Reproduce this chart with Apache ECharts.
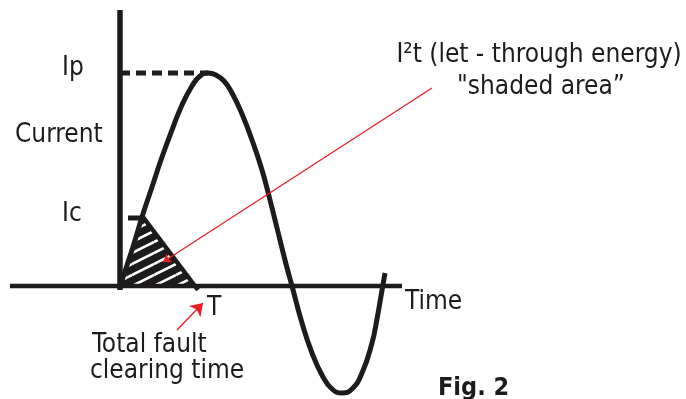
<!DOCTYPE html>
<html>
<head>
<meta charset="utf-8">
<style>
  html, body { margin: 0; padding: 0; background: #fff; }
  #main { width: 686px; height: 399px; }
</style>
<script src="https://cdn.jsdelivr.net/npm/echarts@6/dist/echarts.min.js"></script>
</head>
<body>
<div id="main"></div>
<script>
// time vs current, arbitrary units, origin = fault inception
const currentWave = [
  [0, 0], [12, 36], [22, 69], [32, 99], [42, 129], [52, 156], [62, 181], [72, 200],
  [80, 210], [88, 213], [96, 211], [104, 205], [112, 193], [122, 172], [132, 146],
  [142, 116], [150, 86], [158, 54], [166, 22], [172, 0], [182, -37], [192, -67],
  [202, -89], [212, -103], [222, -107], [232, -103], [242, -87], [252, -57],
  [257, -33], [261, -10], [265, 13]
];
// shaded let-through region: curve up to Ic, then straight down to T
const letThrough = [[0, 0], [12, 36], [23, 69], [76, 0]];
const clearingEdge = [[23, 69], [78, -4]];
const peakLevel = [[0, 213], [88, 213]];   // Ip
const cutoffLevel = [[8, 68], [25, 68]];   // Ic
const currentAxis = [[0, -4], [0, 276]];
const timeAxis = [[-110, 0], [282, 0]];
const energyPointer = [[312, 198], [43, 24]];
const clearingPointer = [[57, -44], [83, -17]];

const tickNames = ['Ip', 'Current', 'Ic'];
const timeNames = ['T', 'Time'];
const notes = ['I\u00b2t (let - through energy)', '"shaded area\u201d', 'Total fault', 'clearing time'];
const figName = 'Fig. 2';

const INK = '#1d1b1c';
const RED = '#ec1c24';
const FONT = "'DejaVu Sans Condensed', 'Liberation Sans', sans-serif";

function hatch() {
  const w = 22, h = 11;
  const c = document.createElement('canvas');
  c.width = w; c.height = h;
  const g = c.getContext('2d');
  g.fillStyle = INK;
  g.fillRect(0, 0, w, h);
  g.strokeStyle = '#fff';
  g.lineWidth = 2.6;
  [-h, 0, h].forEach(off => {
    g.beginPath();
    g.moveTo(0, h + off);
    g.lineTo(w, off);
    g.stroke();
  });
  return c;
}

function plain(data, width, extra) {
  return Object.assign({
    type: 'line',
    data: data,
    symbol: 'none',
    silent: true,
    lineStyle: { color: INK, width: width, cap: 'butt' }
  }, extra || {});
}

function pointer(pts, size) {
  return {
    type: 'line',
    data: [],
    silent: true,
    markLine: {
      silent: true,
      symbol: ['none', 'arrow'],
      symbolSize: size,
      label: { show: false },
      lineStyle: { color: RED, width: 1.3, type: 'solid' },
      data: [[{ coord: pts[0] }, { coord: pts[1] }]]
    }
  };
}

function txt(text, x, y, align, bold) {
  return {
    type: 'text',
    x: x, y: y,
    style: {
      text: text,
      fill: INK,
      font: (bold ? 'bold 25px ' : '26px ') + FONT,
      align: align || 'left',
      verticalAlign: 'middle'
    }
  };
}

const chart = echarts.init(document.getElementById('main'));
chart.setOption({
  animation: false,
  grid: { left: 10, right: 0, top: 10, bottom: 0 },
  xAxis: {
    type: 'value', min: -110, max: 566,
    axisLine: { show: false }, axisTick: { show: false },
    axisLabel: { show: false }, splitLine: { show: false }
  },
  yAxis: {
    type: 'value', min: -113, max: 276,
    axisLine: { show: false }, axisTick: { show: false },
    axisLabel: { show: false }, splitLine: { show: false }
  },
  series: [
    plain(letThrough, 0, {
      areaStyle: { color: { image: hatch(), repeat: 'repeat' }, opacity: 1 },
      lineStyle: { width: 0 }
    }),
    plain(timeAxis, 4.5),
    plain(currentAxis, 5.5),
    plain(currentWave, 5, { smooth: 0.5 }),
    plain(clearingEdge, 4.5),
    plain(peakLevel, 5, { lineStyle: { color: INK, width: 5, type: [10, 6] } }),
    plain(cutoffLevel, 5),
    pointer(energyPointer, 8),
    pointer(clearingPointer, 12)
  ],
  graphic: [
    txt(tickNames[0], 62, 68),
    txt(tickNames[1], 15, 135),
    txt(tickNames[2], 62, 214),
    txt(timeNames[0], 207, 308),
    txt(timeNames[1], 405, 302),
    txt(notes[0], 539, 55, 'center'),
    txt(notes[1], 541, 87, 'center'),
    txt(notes[2], 92, 345),
    txt(notes[3], 90, 371),
    txt(figName, 438, 388, 'left', true)
  ]
});
</script>
</body>
</html>
